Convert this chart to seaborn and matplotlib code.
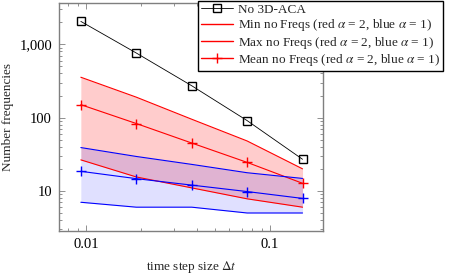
import matplotlib
matplotlib.use("Agg")
import matplotlib.pyplot as plt
import matplotlib.ticker as mticker
from matplotlib.lines import Line2D
import numpy as np
import seaborn as sns

sns.set_style("ticks")
plt.rcParams['font.family'] = ['Liberation Serif', 'DejaVu Serif']
plt.rcParams['mathtext.fontset'] = 'stix'
plt.rcParams['font.size'] = 9.5

# time step sizes
dt = [0.009375, 0.01875, 0.0375, 0.075, 0.15]

# reference without 3D-ACA
no_aca = [2050, 760, 272, 91, 27]

# red: alpha = 2
red_min = [26.5, 15.5, 11.0, 7.8, 6.0]
red_max = [355, 190, 95, 48, 20]
red_mean = [150, 83, 45, 24.5, 12.7]

# blue: alpha = 1
blue_min = [7.0, 6.0, 6.0, 5.0, 5.0]
blue_max = [39, 29.5, 23, 17.7, 14.8]
blue_mean = [18.5, 14.7, 12.0, 9.8, 7.9]

labels = ['No 3D-ACA',
          r'Min no Freqs (red $\alpha$ = 2, blue $\alpha$ = 1)',
          r'Max no Freqs (red $\alpha$ = 2, blue $\alpha$ = 1)',
          r'Mean no Freqs (red $\alpha$ = 2, blue $\alpha$ = 1)']

fig = plt.figure(figsize=(4.5, 2.75), dpi=100)
ax = fig.add_axes([0.131, 0.16, 0.587, 0.829])

ax.fill_between(dt, red_min, red_max, color='red', alpha=0.2, lw=0)
ax.fill_between(dt, blue_min, blue_max, color='blue', alpha=0.12, lw=0)

square = dict(marker='s', markersize=5.5, markerfacecolor='none',
              markeredgecolor='black', markeredgewidth=1.0)
plus = dict(marker='+', markersize=7, markeredgewidth=1.0)
sns.lineplot(x=dt, y=no_aca, ax=ax, color='black', lw=0.6, legend=False,
             **square)
sns.lineplot(x=dt, y=red_min, ax=ax, color='red', lw=0.8, legend=False)
sns.lineplot(x=dt, y=red_max, ax=ax, color='red', lw=0.8, legend=False)
sns.lineplot(x=dt, y=red_mean, ax=ax, color='red', lw=0.8,
             markeredgecolor='red', legend=False, **plus)
sns.lineplot(x=dt, y=blue_min, ax=ax, color='blue', lw=0.8, legend=False)
sns.lineplot(x=dt, y=blue_max, ax=ax, color='blue', lw=0.8, legend=False)
sns.lineplot(x=dt, y=blue_mean, ax=ax, color='blue', lw=0.8,
             markeredgecolor='blue', legend=False, **plus)

ax.set_xscale('log')
ax.set_yscale('log')
ax.set_xlim(0.00713, 0.194)
ax.set_ylim(2.84, 3650)

ax.set_xticks([0.01, 0.1])
ax.set_xticklabels(['0.01', '0.1'])
ax.set_yticks([10, 100, 1000])
ax.set_yticklabels(['10', '100', '1,000'])
ax.xaxis.set_minor_locator(mticker.LogLocator(subs=np.arange(2, 10)))
ax.yaxis.set_minor_locator(mticker.LogLocator(subs=np.arange(2, 10)))
ax.xaxis.set_minor_formatter(mticker.NullFormatter())
ax.yaxis.set_minor_formatter(mticker.NullFormatter())

axis_gray = '#7f7f7f'
for s in ax.spines.values():
    s.set_visible(True)
    s.set_color(axis_gray)
    s.set_linewidth(1.0)
ax.tick_params(which='both', direction='in', top=True, right=True,
               colors=axis_gray, labelcolor='black', width=0.6)
ax.tick_params(which='major', length=4, labelsize=10.5, pad=5)
ax.tick_params(which='minor', length=2)

ax.set_xlabel(r'time step size $\Delta t$', fontsize=9.5, labelpad=6)
ax.set_ylabel('Number frequencies', fontsize=9.5, labelpad=4)

handles = [Line2D([], [], color='black', lw=0.6, **square),
           Line2D([], [], color='red', lw=1.0),
           Line2D([], [], color='red', lw=1.0),
           Line2D([], [], color='red', lw=1.0, markeredgecolor='red', **plus)]
leg = fig.legend(handles, labels, loc='upper right',
                 bbox_to_anchor=(0.985, 0.998), fontsize=9.5, frameon=True,
                 fancybox=False, edgecolor='black', framealpha=1,
                 handlelength=2.4, handletextpad=0.4, borderpad=0.25,
                 labelspacing=0.1, borderaxespad=0)
leg.get_frame().set_linewidth(1.0)

fig.savefig('out.png', dpi=100)
